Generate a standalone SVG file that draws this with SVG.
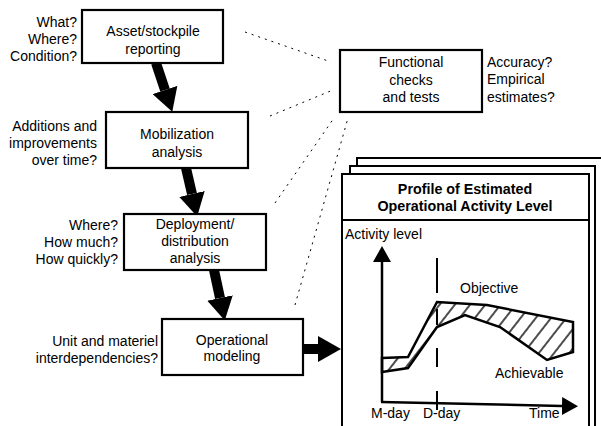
<svg xmlns="http://www.w3.org/2000/svg" width="601" height="426" viewBox="0 0 601 426">
  <style>
    text { font-family: "Liberation Sans", Arial, sans-serif; font-size: 14px; fill: #000; }
    .c { text-anchor: middle; }
    .r { text-anchor: end; }
    .title { font-weight: bold; font-size: 14.3px; text-anchor: middle; }
    .box { fill: #fff; stroke: #000; stroke-width: 2.2; }
    .frame { fill: #fff; stroke: #000; stroke-width: 2; }
    .flow { stroke: #000; stroke-width: 10; fill: none; }
    .check { stroke: #000; stroke-width: 1; stroke-dasharray: 2 5; fill: none; }
    .axis { stroke: #000; stroke-width: 2.5; fill: none; }
  </style>
  <defs>
    <marker id="bigHead" markerUnits="userSpaceOnUse" markerWidth="24" markerHeight="26" refX="0" refY="13" orient="auto">
      <path d="M0,0 L23,13 L0,26 Z" fill="#000"/>
    </marker>
    <marker id="axisHead" markerUnits="userSpaceOnUse" markerWidth="18" markerHeight="18" refX="0" refY="9" orient="auto">
      <path d="M0,0 L16,9 L0,18 Z" fill="#000"/>
    </marker>
    <pattern id="hatch" patternUnits="userSpaceOnUse" width="12" height="12" patternTransform="rotate(38)">
      <line x1="6" y1="0" x2="6" y2="12" stroke="#000" stroke-width="1.4"/>
    </pattern>
  </defs>

  <!-- connectors -->
  <g id="connectors">
    <line class="flow" x1="156" y1="63" x2="165" y2="90" marker-end="url(#bigHead)"/>
    <line class="flow" x1="186" y1="168" x2="192" y2="194" marker-end="url(#bigHead)"/>
    <line class="flow" x1="214" y1="270" x2="220" y2="298" marker-end="url(#bigHead)"/>
    <line class="flow" x1="303" y1="349" x2="318" y2="349" stroke-width="8" marker-end="url(#bigHead)"/>
    <!-- dashed check links toward the functional tests box -->
    <line class="check" x1="245" y1="32" x2="331" y2="62"/>
    <line class="check" x1="270" y1="116" x2="333" y2="90"/>
    <line class="check" x1="275" y1="203" x2="334" y2="118"/>
    <line class="check" x1="295" y1="305" x2="348" y2="118"/>
  </g>

  <!-- asset / stockpile reporting -->
  <g id="asset">
    <rect class="box" x="82" y="10" width="141" height="53"/>
    <text class="c" x="153" y="36">Asset/stockpile</text>
    <text class="c" x="153" y="54">reporting</text>
    <text class="r" x="77" y="27">What?</text>
    <text class="r" x="77" y="44">Where?</text>
    <text class="r" x="77" y="61">Condition?</text>
  </g>

  <!-- mobilization analysis -->
  <g id="mobilization">
    <rect class="box" x="106" y="112" width="142" height="56"/>
    <text class="c" x="177" y="139">Mobilization</text>
    <text class="c" x="177" y="157">analysis</text>
    <text class="r" x="97" y="131">Additions and</text>
    <text class="r" x="97" y="148">improvements</text>
    <text class="r" x="97" y="165">over time?</text>
  </g>

  <!-- deployment / distribution analysis -->
  <g id="deployment">
    <rect class="box" x="124" y="214" width="142" height="56"/>
    <text class="c" x="195" y="229">Deployment/</text>
    <text class="c" x="195" y="246">distribution</text>
    <text class="c" x="195" y="263">analysis</text>
    <text class="r" x="118" y="230">Where?</text>
    <text class="r" x="118" y="247">How much?</text>
    <text class="r" x="118" y="264">How quickly?</text>
  </g>

  <!-- operational modeling -->
  <g id="operational">
    <rect class="box" x="162" y="319" width="141" height="56"/>
    <text class="c" x="232" y="345">Operational</text>
    <text class="c" x="232" y="361">modeling</text>
    <text class="r" x="158" y="346">Unit and materiel</text>
    <text class="r" x="158" y="363">interdependencies?</text>
  </g>

  <!-- functional checks and tests -->
  <g id="functional">
    <rect class="box" x="340" y="50" width="142" height="62"/>
    <text class="c" x="411" y="67">Functional</text>
    <text class="c" x="411" y="85">checks</text>
    <text class="c" x="411" y="102">and tests</text>
    <text x="487" y="67">Accuracy?</text>
    <text x="487" y="84">Empirical</text>
    <text x="487" y="102">estimates?</text>
  </g>

  <!-- profile of estimated operational activity level -->
  <g id="profile">
    <rect class="frame" x="357" y="158" width="250" height="290"/>
    <rect class="frame" x="350" y="166" width="245" height="280"/>
    <rect class="frame" x="342" y="174" width="247" height="270"/>
    <line x1="342" y1="220" x2="589" y2="220" stroke="#000" stroke-width="2"/>
    <text class="title" x="465" y="194">Profile of Estimated</text>
    <text class="title" x="465" y="211">Operational Activity Level</text>
    <text x="345" y="239">Activity level</text>

    <!-- gap between objective and achievable levels -->
    <polygon points="382,358 408,357 437,302 487,305 573,322 573,352 547,360 500,327 465,315 437,327 408,368 382,372" fill="url(#hatch)" stroke="#000" stroke-width="2.5" stroke-linejoin="miter"/>

    <!-- D-day marker -->
    <g stroke="#000" stroke-width="2">
      <line x1="437" y1="258" x2="437" y2="293"/>
      <line x1="437" y1="309" x2="437" y2="325"/>
      <line x1="437" y1="348" x2="437" y2="367"/>
      <line x1="437" y1="391" x2="437" y2="410"/>
    </g>

    <line class="axis" x1="382" y1="402" x2="382" y2="262" marker-end="url(#axisHead)"/>
    <line class="axis" x1="381" y1="402" x2="562" y2="406" marker-end="url(#axisHead)"/>

    <text x="460" y="293">Objective</text>
    <text x="495" y="378">Achievable</text>
    <text x="371" y="418">M-day</text>
    <text x="423" y="418">D-day</text>
    <text x="529" y="418">Time</text>
  </g>
</svg>
